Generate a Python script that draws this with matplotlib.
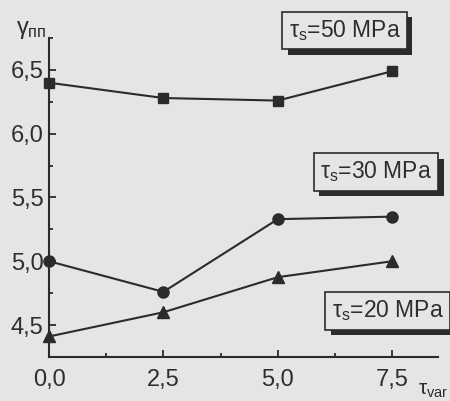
import matplotlib
matplotlib.use('Agg')
import matplotlib.pyplot as plt
import matplotlib.patheffects as pe
from matplotlib.ticker import FuncFormatter, MultipleLocator

plt.rcParams['font.family'] = ['Liberation Sans', 'DejaVu Sans']
plt.rcParams['mathtext.fontset'] = 'custom'
plt.rcParams['mathtext.rm'] = 'Liberation Sans'
plt.rcParams['mathtext.it'] = 'Liberation Sans'
plt.rcParams['mathtext.bf'] = 'Liberation Sans:bold'

# data
tau_var = [0.0, 2.5, 5.0, 7.5]
gamma_50 = [6.40, 6.28, 6.26, 6.49]
gamma_30 = [5.00, 4.76, 5.33, 5.35]
gamma_20 = [4.41, 4.60, 4.875, 5.00]

labels = ['50', '30', '20']
label_pos = [(6.46, 6.81), (7.15, 5.70), (7.40, 4.61)]

bg = '#e5e5e3'
ink = '#2b2b2b'
txt = '#2e2e2e'

fig = plt.figure(figsize=(4.5, 4.01), dpi=100, facecolor=bg)
ax = fig.add_axes([0.109, 0.110, 0.864, 0.795], facecolor=bg)

ax.plot(tau_var, gamma_50, color=ink, lw=1.5, marker='s', ms=7, clip_on=False)
ax.plot(tau_var, gamma_30, color=ink, lw=1.5, marker='o', ms=8, clip_on=False)
ax.plot(tau_var, gamma_20, color=ink, lw=1.5, marker='^', ms=9, clip_on=False)

ax.set_xlim(0, 8.5)
ax.set_ylim(4.25, 6.75)
ax.xaxis.set_major_locator(MultipleLocator(2.5))
ax.xaxis.set_minor_locator(MultipleLocator(1.25))
ax.yaxis.set_major_locator(MultipleLocator(0.5))
ax.yaxis.set_minor_locator(MultipleLocator(0.25))
comma = FuncFormatter(lambda v, p: ('%.1f' % v).replace('.', ','))
ax.xaxis.set_major_formatter(comma)
ax.yaxis.set_major_formatter(comma)
ax.set_xticks([0, 2.5, 5.0, 7.5])

for s in ['top', 'right']:
    ax.spines[s].set_visible(False)
for s in ['left', 'bottom']:
    ax.spines[s].set_color(ink)
    ax.spines[s].set_linewidth(1.5)

ax.tick_params(which='both', direction='in', color=ink, width=1.3,
               labelsize=17, labelcolor=txt)
ax.tick_params(which='major', length=5)
ax.tick_params(axis='x', which='major', pad=9)
ax.tick_params(axis='y', which='major', pad=4)
ax.tick_params(which='minor', length=3)

for lab, (x, y) in zip(labels, label_pos):
    t = ax.text(x, y, r'$\tau_\mathrm{s}$=' + lab + ' MPa', fontsize=16.5,
                color=txt, ha='center', va='center', clip_on=False,
                bbox=dict(boxstyle='square,pad=0.28', fc=bg, ec=ink, lw=1.2))
    t.get_bbox_patch().set_path_effects([
        pe.SimplePatchShadow(offset=(4, -4), shadow_rgbFace=ink, alpha=1.0),
        pe.Normal()])

fig.text(0.035, 0.915, r'$\gamma_{\mathrm{пп}}$', fontsize=17, color=txt)
fig.text(0.928, 0.015, r'$\tau_{\mathrm{var}}$', fontsize=15, color=txt)

fig.savefig('out.png', dpi=100, facecolor=bg)
